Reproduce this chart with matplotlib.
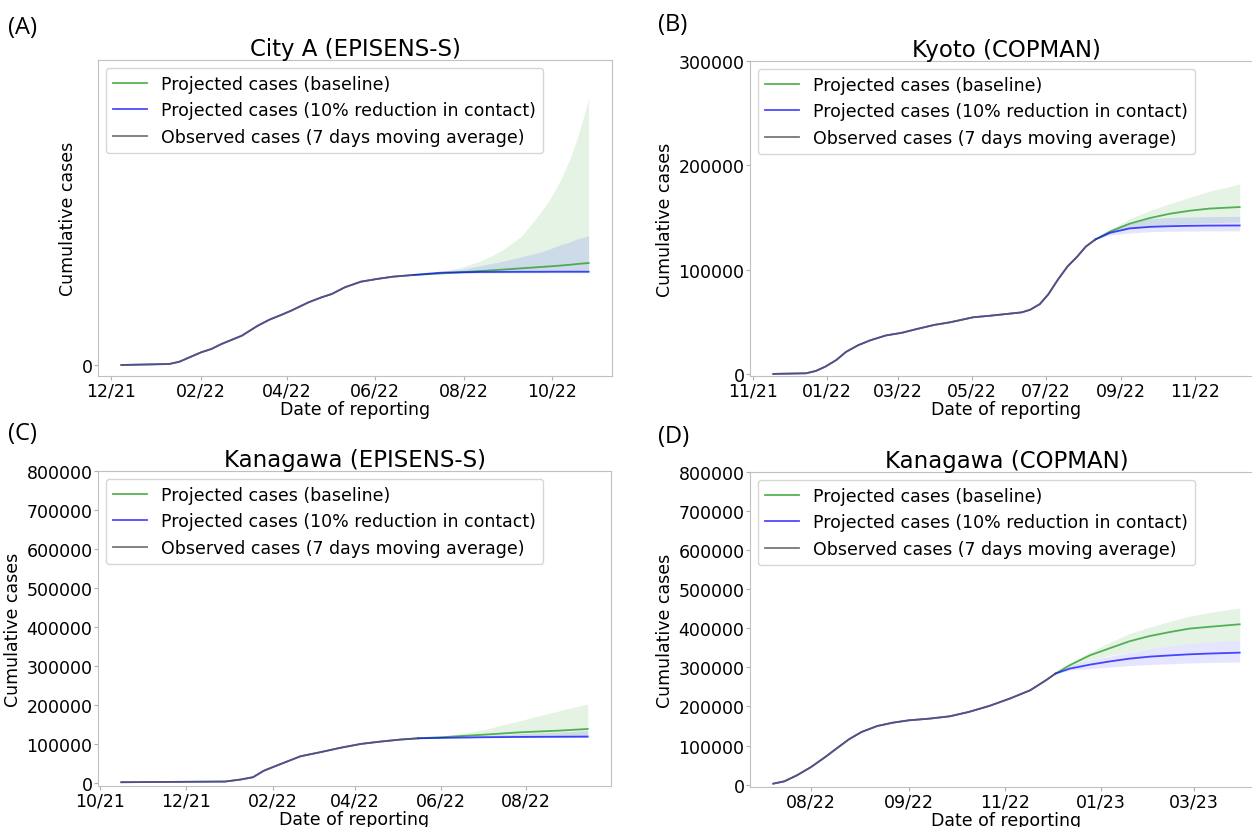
import matplotlib
matplotlib.use("Agg")
import matplotlib.pyplot as plt
import matplotlib.dates as mdates
import pandas as pd

# (A) City A (EPISENS-S) - hodnoty na ose y nejsou v originale uvedeny
a_obs_dates = ["2021-12-08", "2022-01-10", "2022-01-17", "2022-01-24", "2022-02-01", "2022-02-08",
               "2022-02-15", "2022-03-01", "2022-03-12", "2022-03-20", "2022-03-28", "2022-04-04",
               "2022-04-16", "2022-04-25", "2022-05-02", "2022-05-11", "2022-05-22", "2022-06-02",
               "2022-06-13", "2022-06-27"]
a_obs = [0, 1000, 3300, 7700, 12700, 16000, 21000, 29300, 39300, 45300, 50000, 54300,
         62700, 67700, 71000, 77700, 83300, 86000, 88300, 90000]
a_proj_dates = ["2022-06-27", "2022-07-16", "2022-07-30", "2022-08-13", "2022-08-27",
                "2022-09-10", "2022-09-23", "2022-09-30", "2022-10-07", "2022-10-13",
                "2022-10-18", "2022-10-22", "2022-10-26"]
a_base = [90000, 91500, 92700, 94000, 95300, 96700, 98000, 98700, 99500, 100200, 101000, 101500, 102000]
a_base_lo = [90000, 91800, 92000, 92100, 92200, 92200, 92300, 92300, 92300, 92300, 92300, 92300, 92300]
a_base_hi = [90000, 93300, 97700, 104300, 114300, 129300, 152600, 167500, 186000, 205800,
             226000, 245700, 267000]
a_red = [90000, 92300, 92700, 93000, 93100, 93200, 93200, 93300, 93300, 93300, 93300, 93300, 93300]
a_red_lo = [90000, 91800, 92000, 92100, 92200, 92200, 92300, 92300, 92300, 92300, 92300, 92300, 92300]
a_red_hi = [90000, 93500, 95500, 99500, 103500, 108300, 113000, 116500, 120500, 123000,
            126000, 127500, 129300]

# (B) Kyoto (COPMAN)
b_obs_dates = ["2021-11-18", "2021-12-15", "2021-12-23", "2021-12-31", "2022-01-09", "2022-01-17",
               "2022-01-27", "2022-02-06", "2022-02-19", "2022-03-04", "2022-03-17", "2022-03-31",
               "2022-04-13", "2022-05-02", "2022-05-16", "2022-05-29", "2022-06-11", "2022-06-18",
               "2022-06-26", "2022-07-03", "2022-07-11", "2022-07-19", "2022-07-27", "2022-08-03",
               "2022-08-11"]
b_obs = [0, 600, 2800, 7000, 13300, 21100, 27500, 32200, 36900, 39400, 43200, 47000,
         49500, 54300, 55800, 57400, 59000, 61500, 66900, 76300, 90500, 103200, 112600,
         122100, 129000]
b_proj_dates = ["2022-08-11", "2022-08-23", "2022-09-08", "2022-09-25", "2022-10-11",
                "2022-10-28", "2022-11-13", "2022-12-08"]
b_base = [129000, 136500, 144000, 149500, 153500, 156500, 158500, 160000]
b_base_lo = [129000, 134700, 139000, 141000, 143000, 144200, 145000, 145800]
b_base_hi = [129000, 138500, 148900, 156800, 163100, 169400, 175100, 182000]
b_red = [129000, 135300, 139500, 141000, 141600, 142000, 142200, 142300]
b_red_lo = [129000, 133100, 135000, 136300, 136800, 137000, 137100, 137200]
b_red_hi = [129000, 137900, 144000, 148900, 150000, 150500, 150800, 151100]

# (C) Kanagawa (EPISENS-S)
c_obs_dates = ["2021-10-16", "2021-12-29", "2022-01-09", "2022-01-18", "2022-01-26", "2022-02-07",
               "2022-02-21", "2022-03-07", "2022-03-21", "2022-04-05", "2022-04-19", "2022-05-03",
               "2022-05-16"]
c_obs = [1700, 3400, 8500, 14500, 31600, 48700, 68300, 78600, 89700, 99900, 105900, 111000, 114400]
c_proj_dates = ["2022-05-16", "2022-06-01", "2022-06-29", "2022-07-28", "2022-08-25", "2022-09-14"]
c_base = [114400, 117000, 123000, 129800, 134100, 138300]
c_base_lo = [114400, 115000, 116000, 116500, 116500, 116500]
c_base_hi = [114400, 118700, 134100, 159700, 185300, 202400]
c_red = [114400, 115300, 117000, 117900, 118400, 118700]
c_red_lo = [114400, 115000, 116000, 116500, 116500, 116500]
c_red_hi = [114400, 116500, 121000, 126000, 130000, 134000]

# (D) Kanagawa (COPMAN)
d_obs_dates = ["2022-06-07", "2022-06-14", "2022-06-22", "2022-07-01", "2022-07-10", "2022-07-17",
               "2022-07-25", "2022-08-02", "2022-08-12", "2022-08-22", "2022-09-01", "2022-09-14",
               "2022-09-27", "2022-10-09", "2022-10-22", "2022-11-04", "2022-11-17", "2022-11-27",
               "2022-12-03"]
d_obs = [2600, 8500, 23900, 45200, 70800, 92100, 116000, 134800, 150100, 158700, 164600,
         168900, 174900, 186000, 201300, 220100, 241400, 267000, 284000]
d_proj_dates = ["2022-12-03", "2022-12-12", "2022-12-25", "2023-01-07", "2023-01-19",
                "2023-02-01", "2023-02-14", "2023-02-26", "2023-03-11", "2023-03-30"]
d_base = [284000, 305400, 331000, 349700, 366800, 380400, 390700, 399200, 404000, 410300]
d_base_lo = [284000, 301100, 318000, 331000, 340000, 348000, 355000, 360800, 365000, 369300]
d_base_hi = [284000, 309600, 339500, 365100, 386400, 403500, 418000, 430800, 441000, 452100]
d_red = [284000, 296800, 307100, 315600, 322400, 327600, 330800, 333500, 335500, 337800]
d_red_lo = [284000, 292600, 297000, 301100, 304500, 307100, 309500, 311300, 312800, 313900]
d_red_hi = [284000, 303700, 318000, 329300, 339000, 348000, 355000, 360800, 365000, 369300]
d_tick_dates = ["2022-07-01", "2022-09-01", "2022-11-01", "2023-01-01", "2023-03-01"]
d_tick_labels = ["08/22", "09/22", "11/22", "01/23", "03/23"]

W, H = 1252, 828
fig = plt.figure(figsize=(W / 100, H / 100), dpi=100)
FS = 12.5


def px_axes(left, top, right, bottom):
    return fig.add_axes([left / W, 1 - bottom / H, (right - left) / W, (bottom - top) / H])


def panel(ax, title, od, ov, pd_, base, blo, bhi, red, rlo, rhi):
    od = pd.to_datetime(od)
    pdt = pd.to_datetime(pd_)
    ax.fill_between(pdt, blo, bhi, color="tab:green", alpha=0.12, lw=0)
    ax.fill_between(pdt, rlo, rhi, color="blue", alpha=0.1, lw=0)
    ax.plot(od, ov, color="blue", alpha=0.7, lw=1.3)
    ax.plot(pdt, base, color="tab:green", alpha=0.8, lw=1.3, label="Projected cases (baseline)")
    ax.plot(pdt, red, color="blue", alpha=0.7, lw=1.3, label="Projected cases (10% reduction in contact)")
    ax.plot(od, ov, color="#555555", alpha=0.8, lw=1.3, label="Observed cases (7 days moving average)")
    ax.set_title(title, fontsize=16.5, pad=2)
    ax.set_xlabel("Date of reporting", fontsize=FS, labelpad=0)
    ax.set_ylabel("Cumulative cases", fontsize=FS, labelpad=3)
    ax.tick_params(labelsize=FS, length=3, pad=1, color="#b0b0b0")
    for s in ax.spines.values():
        s.set_color("#c0c0c0")
    ax.xaxis.set_major_formatter(mdates.DateFormatter("%m/%y"))
    ax.legend(loc="upper left", fontsize=FS, borderaxespad=0.45)


axA = px_axes(98, 61, 612, 377)
panel(axA, "City A (EPISENS-S)", a_obs_dates, a_obs, a_proj_dates,
      a_base, a_base_lo, a_base_hi, a_red, a_red_lo, a_red_hi)
axA.set_ylim(-11000, 305000)
axA.set_yticks([0])
axA.xaxis.set_major_locator(mdates.MonthLocator(bymonth=[2, 4, 6, 8, 10, 12]))

axB = px_axes(750, 62, 1263, 377)
panel(axB, "Kyoto (COPMAN)", b_obs_dates, b_obs, b_proj_dates,
      b_base, b_base_lo, b_base_hi, b_red, b_red_lo, b_red_hi)
axB.set_ylim(-2000, 300000)
axB.set_yticks([0, 100000, 200000, 300000])
axB.xaxis.set_major_locator(mdates.MonthLocator(bymonth=[1, 3, 5, 7, 9, 11]))

axC = px_axes(98, 472, 611, 787)
panel(axC, "Kanagawa (EPISENS-S)", c_obs_dates, c_obs, c_proj_dates,
      c_base, c_base_lo, c_base_hi, c_red, c_red_lo, c_red_hi)
axC.set_ylim(-8000, 800000)
axC.set_yticks(range(0, 800001, 100000))
axC.xaxis.set_major_locator(mdates.MonthLocator(bymonth=[2, 4, 6, 8, 10, 12]))

axD = px_axes(750, 473, 1263, 788)
panel(axD, "Kanagawa (COPMAN)", d_obs_dates, d_obs, d_proj_dates,
      d_base, d_base_lo, d_base_hi, d_red, d_red_lo, d_red_hi)
axD.set_ylim(-6000, 800000)
axD.set_yticks(range(0, 800001, 100000))
axD.set_xticks(pd.to_datetime(d_tick_dates))
axD.set_xticklabels(d_tick_labels)

for lab, x, y in [("(A)", 8, 28), ("(B)", 658, 25), ("(C)", 8, 434), ("(D)", 658, 437)]:
    fig.text(x / W, 1 - y / H, lab, fontsize=17, family=["Open Sans", "DejaVu Sans"],
             ha="left", va="center")

fig.savefig("out.png", dpi=100)
